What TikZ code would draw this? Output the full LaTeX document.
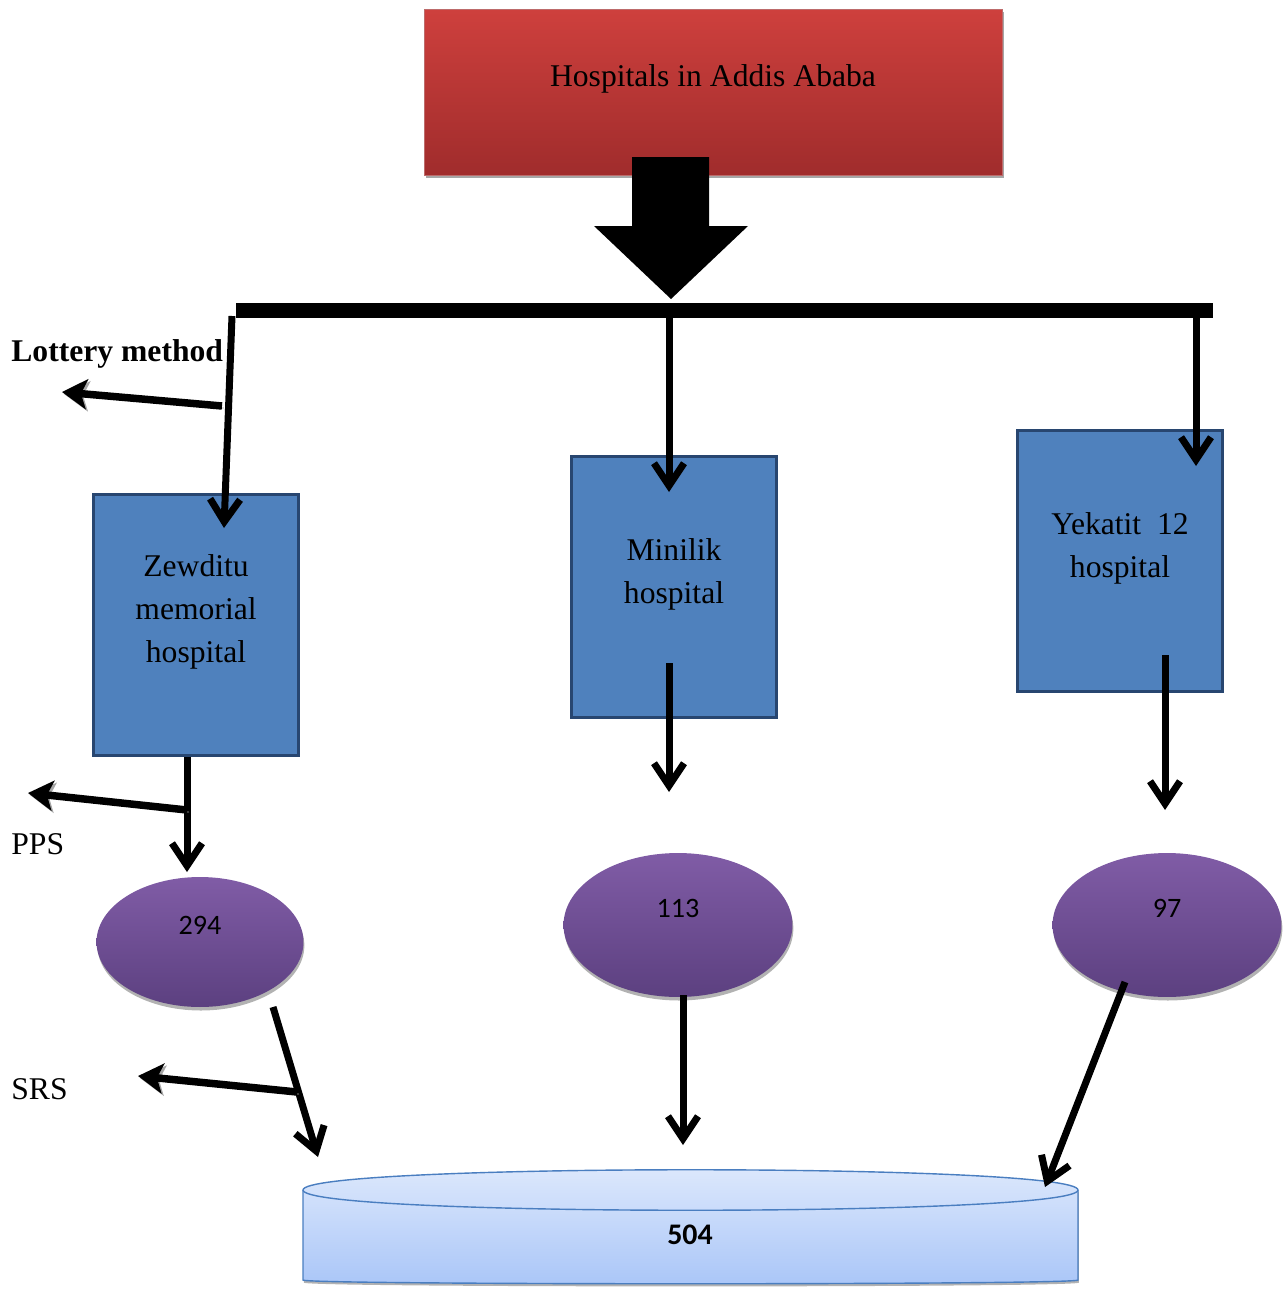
\documentclass[tikz,border=0pt]{standalone}
\usepackage{fontspec}
\setmainfont{Liberation Serif}
\newfontfamily\numfont{Carlito}
\usetikzlibrary{arrows.meta}
\usetikzlibrary{shapes.geometric}
\usetikzlibrary{shadows}
\definecolor{titletop}{RGB}{206,64,61}
\definecolor{titlebot}{RGB}{160,44,44}
\definecolor{hospblue}{RGB}{79,129,189}
\definecolor{hospedge}{RGB}{40,70,112}
\definecolor{sampletop}{RGB}{128,92,166}
\definecolor{samplebot}{RGB}{92,64,128}
\definecolor{cyltop}{RGB}{222,233,252}
\definecolor{cylbot}{RGB}{170,198,248}
\definecolor{cyledge}{RGB}{74,126,192}
\newcommand{\boxlines}[1]{\raisebox{0.13cm}[0pt][0pt]{\begin{tabular}{@{}c@{}}#1\end{tabular}}}
\newcommand{\upnum}[1]{\raisebox{0.16cm}[0pt][0pt]{#1}}
\newcommand{\uptitle}[1]{\raisebox{0.12cm}[0pt][0pt]{#1}}

\begin{document}
\begin{tikzpicture}[x=0.02cm,y=-0.02cm,
  titlebox/.style={rectangle,top color=titletop,bottom color=titlebot,draw=titlebot!70!white,
    minimum width=11.56cm,minimum height=3.32cm,inner sep=0pt,font=\fontsize{18}{22}\selectfont,
    drop shadow={shadow xshift=1pt,shadow yshift=-1.5pt,fill=black!35,opacity=1}},
  hospbox/.style={rectangle,fill=hospblue,draw=hospedge,line width=1.7pt,
    minimum width=4.1cm,minimum height=5.24cm,inner sep=0pt,font=\fontsize{18}{24.5}\selectfont},
  sample/.style={ellipse,top color=sampletop,bottom color=samplebot,inner sep=0pt,
    font=\numfont\fontsize{16}{19}\selectfont,
    drop shadow={shadow xshift=0.5pt,shadow yshift=-2pt,fill=black!30,opacity=1}},
  shade arrow/.style={preaction={draw=black!35,transform canvas={shift={(1.2pt,-1.2pt)}}}},
  downarrow/.style={line width=0.14cm,-{Straight Barb[length=0.45cm,width=0.6cm]},shade arrow},
  sidearrow/.style={line width=0.15cm,-{Stealth[length=0.5cm,width=0.6cm,inset=0.12cm]},shade arrow},
  method/.style={anchor=west,inner sep=0pt,font=\fontsize{18}{22}\selectfont}]
\useasboundingbox (0,0) rectangle (1287,1298);

% top of the tree
\node[titlebox] (hosp) at (713,92) {\uptitle{Hospitals in Addis Ababa}};
\fill (632,157) -- (709,157) -- (709,226) -- (748,226) -- (671,299) -- (594,226) -- (632,226) -- cycle;
\coordinate (barL) at (236,310);
\coordinate (barR) at (1213,310);
\draw[line width=0.3cm] (barL) -- (barR);

% hospitals
\node[hospbox] (zewditu) at (196,625) {\boxlines{Zewditu\\memorial\\hospital}};
\node[hospbox] (minilik) at (674,587) {\boxlines{Minilik\\hospital}};
\node[hospbox] (yekatit) at (1120,561) {\boxlines{Yekatit~~12\\hospital}};

\coordinate (d1a) at (232,316);  \coordinate (d1b) at (224,528);
\coordinate (d2a) at (669,316);  \coordinate (d2b) at (669,492);
\coordinate (d3a) at (1196,316); \coordinate (d3b) at (1196,466);
\draw[downarrow] (d1a) -- (d1b);
\draw[downarrow] (d2a) -- (d2b);
\draw[downarrow] (d3a) -- (d3b);

% samples
\node[sample,minimum width=4.14cm,minimum height=2.6cm] (s294) at (200,942) {\upnum{294}};
\node[sample,minimum width=4.58cm,minimum height=2.88cm] (s113) at (678,925) {\upnum{113}};
\node[sample,minimum width=4.58cm,minimum height=2.88cm] (s97) at (1167,925) {\upnum{97}};

\coordinate (e1a) at (187,757);  \coordinate (e1b) at (187,872);
\coordinate (e2a) at (669,663);  \coordinate (e2b) at (669,792);
\coordinate (e3a) at (1165,655); \coordinate (e3b) at (1165,810);
\draw[downarrow] (e1a) -- (e1b);
\draw[downarrow] (e2a) -- (e2b);
\draw[downarrow] (e3a) -- (e3b);

% total
\shade[top color=cyltop,bottom color=cylbot,draw=cyledge,line width=0.8pt,
  drop shadow={shadow xshift=0.5pt,shadow yshift=-1.5pt,fill=black!30,opacity=1}]
  (303,1190) -- (303,1280) .. controls (303,1285) and (1078,1285) .. (1078,1280)
  -- (1078,1190) .. controls (1078,1163) and (303,1163) .. cycle;
\draw[cyledge,line width=0.8pt] (303,1190) .. controls (303,1217) and (1078,1217) .. (1078,1190);
\node[font=\numfont\bfseries\fontsize{17}{20}\selectfont] (total) at (690,1235) {504};

\coordinate (f1a) at (273,1007);  \coordinate (f1b) at (318,1157);
\coordinate (f2a) at (683,995);   \coordinate (f2b) at (683,1145);
\coordinate (f3a) at (1125,982);  \coordinate (f3b) at (1045,1187);
\draw[downarrow] (f1a) -- (f1b);
\draw[downarrow] (f2a) -- (f2b);
\draw[downarrow] (f3a) -- (f3b);

% sampling methods
\coordinate (m1a) at (222,406);  \coordinate (m1b) at (62,392);
\coordinate (m2a) at (187,810);  \coordinate (m2b) at (28,793);
\coordinate (m3a) at (297,1092); \coordinate (m3b) at (138,1076);
\draw[sidearrow] (m1a) -- (m1b);
\draw[sidearrow] (m2a) -- (m2b);
\draw[sidearrow] (m3a) -- (m3b);
\node[method,font=\bfseries\fontsize{18}{22}\selectfont] (lottery) at (11,354) {Lottery method};
\node[method] (pps) at (11,844) {PPS};
\node[method] (srs) at (11,1089) {SRS};
\end{tikzpicture}
\end{document}
